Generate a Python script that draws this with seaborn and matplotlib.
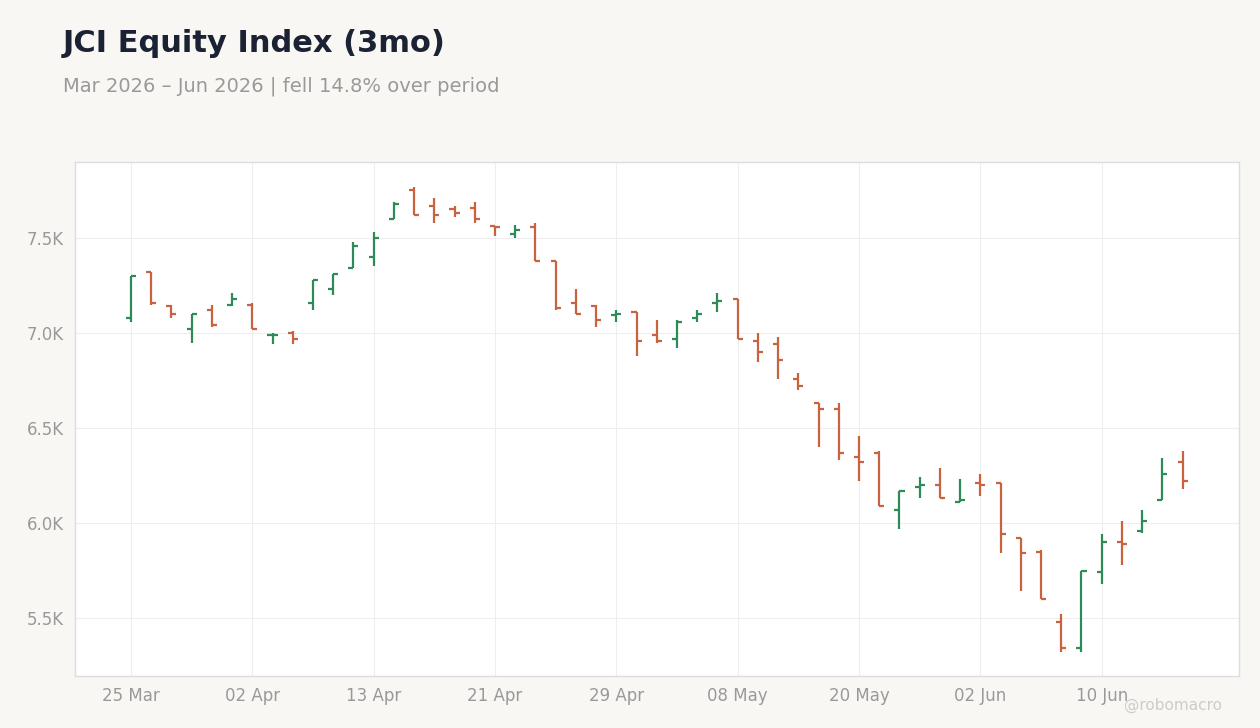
import matplotlib
matplotlib.use("Agg")
import matplotlib.pyplot as plt
import seaborn as sns
import numpy as np
import pandas as pd

opens  = [7080,7320,7140,7020,7120,7150,7150,6990,7000,7160,7230,7340,7400,7600,7750,7670,7650,7660,7565,7520,7560,7380,7160,7140,7095,7110,6990,6970,7080,7160,7180,6960,6940,6760,6630,6600,6350,6370,6070,6190,6200,6110,6210,6210,5920,5850,5480,5340,5740,5900,5960,6120,6320]
highs  = [7300,7320,7150,7100,7150,7210,7160,7000,7010,7280,7310,7480,7530,7690,7770,7710,7670,7690,7565,7570,7580,7380,7230,7150,7120,7110,7070,7070,7120,7210,7180,7000,6980,6790,6630,6630,6460,6380,6170,6240,6290,6230,6260,6210,5920,5860,5520,5750,5940,6010,6070,6340,6380]
lows   = [7060,7150,7080,6950,7030,7140,7020,6940,6940,7120,7200,7340,7350,7600,7620,7580,7610,7580,7510,7500,7380,7120,7100,7030,7060,6880,6950,6920,7060,7110,6970,6850,6760,6700,6400,6330,6220,6090,5970,6130,6130,6110,6140,5840,5640,5600,5320,5320,5680,5780,5950,6120,6180]
closes = [7300,7160,7100,7100,7040,7180,7020,6990,6970,7280,7310,7460,7500,7680,7620,7620,7630,7600,7560,7540,7380,7130,7100,7070,7100,6960,6960,7060,7100,7170,6970,6900,6860,6720,6600,6370,6320,6090,6170,6200,6130,6120,6200,5940,5840,5600,5340,5750,5900,5890,6010,6260,6220]
tick_idx = [0,6,12,18,24,30,36,42,48]
tick_labels = ["25 Mar","02 Apr","13 Apr","21 Apr","29 Apr","08 May","20 May","02 Jun","10 Jun"]

df = pd.DataFrame({"o":opens,"h":highs,"l":lows,"c":closes})
df["x"] = np.arange(len(df))
UP, DN = "#2e8b57", "#c9623f"
df["col"] = np.where(df.c >= df.o, UP, DN)

sns.set_theme(style="whitegrid")
plt.rcParams['font.family'] = ['DejaVu Sans']
fig = plt.figure(figsize=(12.6,7.28), dpi=100, facecolor="#f8f7f4")
ax = fig.add_axes([0.0595,0.0714,0.9235,0.7061])
ax.set_facecolor("white")
w = 0.25
ax.vlines(df.x, df.l, df.h, colors=df.col, lw=1.6)
ax.hlines(df.o, df.x-w, df.x, colors=df.col, lw=1.6)
ax.hlines(df.c, df.x, df.x+w, colors=df.col, lw=1.6)
ax.set_xlim(-2.77,54.77)
ax.set_ylim(5195,7900)
ax.set_xticks(tick_idx)
ax.set_xticklabels(tick_labels)
yt = [5500,6000,6500,7000,7500]
ax.set_yticks(yt)
ax.set_yticklabels([f"{v/1000:.1f}K" for v in yt])
ax.tick_params(colors="#999999", labelsize=12, length=0, pad=8)
ax.grid(color="#eeeeee", lw=0.8)
for s in ax.spines.values():
    s.set_color("#dddddd"); s.set_linewidth(1)
fig.text(0.05, 0.96, "JCI Equity Index (3mo)", fontsize=22, fontweight="bold", color="#1a2233", va="top")
fig.text(0.05, 0.895, "Mar 2026 – Jun 2026 | fell 14.8% over period", fontsize=14, color="#999999", va="top")
fig.text(0.97, 0.02, "@robomacro", fontsize=11, color="#cccccc", ha="right", va="bottom")
fig.savefig("out.png", dpi=100, facecolor=fig.get_facecolor())
